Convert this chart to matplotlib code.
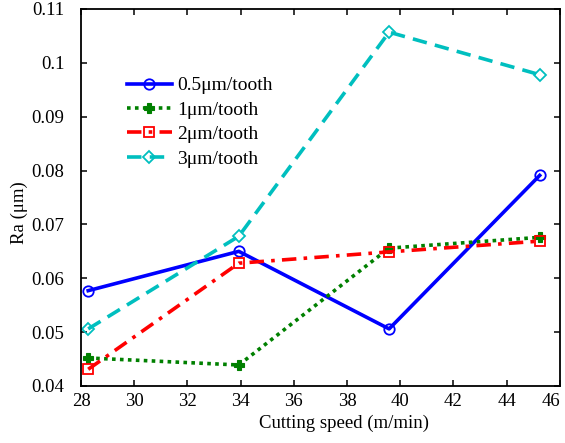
import numpy as np
import matplotlib
matplotlib.use("Agg")
import matplotlib.pyplot as plt

plt.rcParams["font.family"] = ["Liberation Serif", "DejaVu Serif"]
plt.rcParams["mathtext.fontset"] = "stix"

speed = [28.27, 33.93, 39.58, 45.24]
ra_05 = [0.0577, 0.0650, 0.0506, 0.0791]
ra_1 = [0.0452, 0.0439, 0.0656, 0.0676]
ra_2 = [0.0431, 0.0628, 0.0649, 0.0669]
ra_3 = [0.0506, 0.0678, 0.1057, 0.0978]
labels = ["0.5\u03bcm/tooth", "1\u03bcm/tooth", "2\u03bcm/tooth", "3\u03bcm/tooth"]
x_ticks = [28, 30, 32, 34, 36, 38, 40, 42, 44, 46]
y_ticks = [0.04, 0.05, 0.06, 0.07, 0.08, 0.09, 0.1, 0.11]
y_tick_labels = ["0.04", "0.05", "0.06", "0.07", "0.08", "0.09", "0.1", "0.11"]

fig = plt.figure(figsize=(5.65, 4.43), dpi=100)
ax = fig.add_axes([0.1434, 0.1287, 0.8476, 0.851])

lw = 2.6
ax.plot(speed, ra_05, color="b", lw=lw, marker="o", ms=7.5, mfc="none", mew=1.3,
        label=labels[0])
ax.plot(speed, ra_1, color=(0, 0.5, 0), lw=lw, marker="P", ms=7.5, mew=0.8,
        dashes=(1, 1.2), label=labels[1])
ax.plot(speed, ra_2, color="r", lw=lw, marker="s", ms=7.5, mfc="none", mew=1.3,
        dashes=(4, 2, 1, 2), label=labels[2])
ax.plot(speed, ra_3, color=(0, 0.75, 0.75), lw=lw, marker="D", ms=6.5, mfc="none", mew=1.3,
        dashes=(4, 2.3), label=labels[3])

ax.set_xlim(28, 46)
ax.set_ylim(0.04, 0.11)
ax.set_xticks(x_ticks)
ax.set_yticks(y_ticks)
ax.set_yticklabels(y_tick_labels)
ax.tick_params(direction="in", top=True, right=True, length=4, width=1.1, labelsize=13.5)
ax.tick_params(axis="y", pad=12)
ax.tick_params(axis="x", pad=5)
ax.get_xticklabels()[-1].set_horizontalalignment("right")
for s in ax.spines.values():
    s.set_linewidth(1.3)

ax.set_xlabel("Cutting speed (m/min)", fontsize=13.5)
ax.xaxis.set_label_coords(0.55, -0.075)
ax.set_ylabel("Ra (\u03bcm)", fontsize=13.5)
ax.yaxis.set_label_coords(-0.11, 0.46)

ax.legend(loc="upper left", bbox_to_anchor=(0.096, 0.82), frameon=False, fontsize=14,
          handlelength=2.3, handletextpad=0.3, labelspacing=0.35, borderpad=0,
          borderaxespad=0)

fig.savefig("out.png", dpi=100)
